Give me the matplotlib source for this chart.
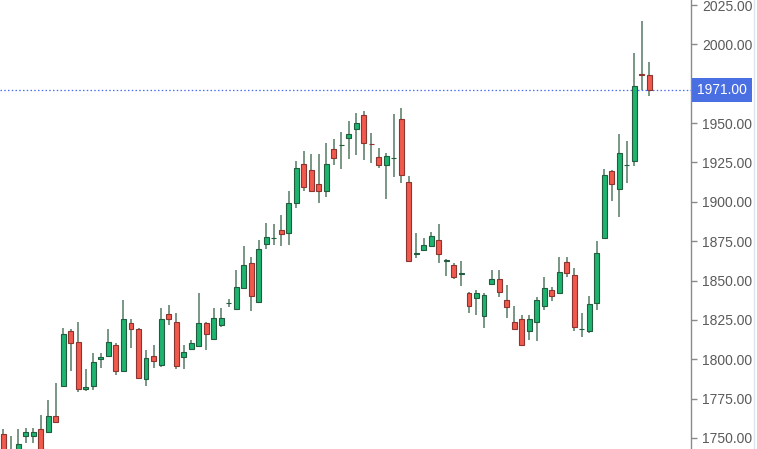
import numpy as np
import matplotlib
matplotlib.use("Agg")
import matplotlib.pyplot as plt
import matplotlib.transforms as mtransforms

plt.rcParams['font.family'] = ['Liberation Sans', 'DejaVu Sans']

# daily OHLC
opens = [1752.5, 1738, 1740, 1751.3, 1751.3, 1755.7, 1753.7, 1764.0, 1783.0, 1818.0,
         1811.0, 1781.1, 1783.0, 1800.2, 1802.1, 1809.1, 1792.6, 1823.0, 1819.2, 1787.5,
         1802.1, 1796.4, 1828.8, 1823.7, 1801.4, 1806.5, 1808.4, 1823.0, 1812.9, 1821.8,
         1835.5, 1831.9, 1845.3, 1861.1, 1836.4, 1873.2, 1876.8, 1882.1, 1880.2, 1899.3,
         1924.0, 1920.2, 1911.3, 1906.9, 1933.5, 1935.9, 1940.5, 1946.2, 1955.1, 1937.0,
         1928.5, 1923.4, 1927.6, 1952.6, 1912.6, 1866.7, 1869.4, 1871.9, 1875.8, 1862.3,
         1859.9, 1854.0, 1842.1, 1838.9, 1827.5, 1847.8, 1851.0, 1837.6, 1823.7, 1825.6,
         1818.0, 1823.7, 1833.8, 1844.0, 1842.1, 1861.8, 1853.5, 1819.0, 1818.0, 1835.7,
         1877.0, 1919.6, 1908.1, 1923.2, 1925.9, 1981.5, 1980.5]
highs = [1755.7, 1751.3, 1755.7, 1756.3, 1756.5, 1764.6, 1774.1, 1784.9, 1819.9, 1819.2,
         1823.7, 1793.8, 1804.0, 1804.0, 1819.2, 1810.3, 1837.6, 1825.6, 1819.9, 1806.0,
         1809.1, 1832.6, 1834.5, 1829.4, 1809.1, 1812.2, 1842.1, 1823.5, 1832.6, 1832.6,
         1838.3, 1856.7, 1871.9, 1865.0, 1875.8, 1886.5, 1885.9, 1891.6, 1906.9, 1925.9,
         1932.3, 1930.4, 1930.4, 1937.4, 1939.9, 1944.3, 1951.3, 1956.4, 1957.7, 1943.7,
         1934.2, 1931.0, 1955.8, 1959.6, 1916.4, 1880.2, 1877.0, 1880.8, 1885.9, 1863.7,
         1861.1, 1862.4, 1842.5, 1844.0, 1842.1, 1856.7, 1856.7, 1847.2, 1833.8, 1828.1,
         1828.1, 1839.6, 1852.3, 1845.9, 1865.0, 1865.0, 1858.0, 1829.4, 1840.2, 1875.1,
         1920.8, 1920.0, 1943.1, 1938.6, 1994.5, 2014.8, 1988.8]
lows = [1738, 1735, 1737, 1746.8, 1747, 1738, 1753.2, 1759.6, 1782.5, 1792.6,
        1779.2, 1779.8, 1780.5, 1794.5, 1801.4, 1790.0, 1792.0, 1807.2, 1787.5, 1783.0,
        1794.5, 1795.1, 1821.8, 1793.8, 1793.8, 1805.9, 1808.0, 1805.9, 1812.5, 1820.5,
        1833.1, 1831.5, 1845.0, 1830.7, 1836.0, 1870.0, 1872.6, 1871.9, 1872.6, 1896.1,
        1906.9, 1906.2, 1899.3, 1903.1, 1923.4, 1920.8, 1927.2, 1929.7, 1926.6, 1924.7,
        1921.5, 1901.8, 1915.8, 1912.0, 1862.0, 1864.3, 1868.8, 1871.3, 1861.1, 1852.9,
        1851.0, 1846.5, 1829.4, 1828.1, 1819.9, 1847.5, 1839.6, 1826.2, 1819.0, 1809.0,
        1812.2, 1811.6, 1831.3, 1837.0, 1842.0, 1852.3, 1818.0, 1814.1, 1816.7, 1831.3,
        1876.5, 1900.5, 1890.4, 1912.0, 1922.7, 1971.0, 1967.2]
closes = [1741, 1742, 1746.2, 1753.7, 1753.7, 1742, 1764.0, 1760.2, 1816.1, 1810.3,
          1781.1, 1782.4, 1798.3, 1801.4, 1811.0, 1792.6, 1825.6, 1819.2, 1788.1, 1800.8,
          1798.9, 1825.6, 1825.6, 1795.7, 1804.6, 1810.3, 1823.0, 1816.1, 1826.2, 1826.2,
          1836.0, 1845.9, 1859.9, 1840.2, 1870.0, 1877.7, 1877.2, 1879.6, 1899.3, 1921.5,
          1909.4, 1906.9, 1906.9, 1924.0, 1927.8, 1936.3, 1943.1, 1950.1, 1937.4, 1936.5,
          1923.4, 1929.1, 1928.0, 1917.0, 1862.4, 1867.1, 1872.6, 1878.3, 1866.9, 1862.6,
          1852.3, 1854.4, 1833.8, 1842.1, 1840.8, 1851.0, 1842.7, 1833.2, 1819.2, 1809.1,
          1825.6, 1837.6, 1845.3, 1840.2, 1855.4, 1854.8, 1820.5, 1819.4, 1835.1, 1867.5,
          1917.0, 1911.3, 1931.0, 1923.6, 1973.6, 1980.8, 1971.0]

y_ticks = [1750, 1775, 1800, 1825, 1850, 1875, 1900, 1925, 1950, 1975, 2000, 2025]
last_price = 1971.00

UP_FILL, UP_EDGE = '#1eb36e', '#215c3e'
DN_FILL, DN_EDGE = '#f2594d', '#8c3530'
WICK = '#557a63'

o = np.array(opens)
h = np.array(highs)
l = np.array(lows)
c = np.array(closes)
x = np.arange(len(o))
up = c >= o

fig = plt.figure(figsize=(7.57, 4.49), dpi=100)
ax = fig.add_axes([0, 0, 691 / 757, 1])

ax.vlines(x, l, h, color=WICK, lw=1.1, zorder=2)
bottom = np.minimum(o, c)
height = np.maximum(np.abs(c - o), 0.5)
ax.bar(x[up], height[up], bottom=bottom[up], width=0.66,
       color=UP_FILL, edgecolor=UP_EDGE, linewidth=0.8, zorder=3)
ax.bar(x[~up], height[~up], bottom=bottom[~up], width=0.66,
       color=DN_FILL, edgecolor=DN_EDGE, linewidth=0.8, zorder=3)

ax.axhline(last_price, color='#4a6cf0', lw=0.9, ls=(0, (1.2, 1.8)), zorder=1)

ax.set_xlim(-0.44, 91.56)
ax.set_ylim(1743.0, 2028.2)

for s in ['top', 'bottom', 'left']:
    ax.spines[s].set_visible(False)
ax.spines['right'].set_color('#8a8a8a')
ax.spines['right'].set_linewidth(1.0)
ax.set_xticks([])
ax.yaxis.tick_right()
ax.set_yticks(y_ticks)
ax.set_yticklabels([f'{v:.2f}' for v in y_ticks])
ax.tick_params(axis='y', direction='out', length=4, width=1, color='#8a8a8a',
               labelcolor='#5a5a5a', labelsize=10, pad=4)

trans = mtransforms.blended_transform_factory(ax.transAxes, ax.transData)
ax.annotate(f'{last_price:.2f}', xy=(1.0, last_price), xycoords=trans,
            xytext=(4.2, 0), textcoords='offset points', ha='left', va='center',
            color='white', fontsize=10, annotation_clip=False, zorder=5,
            bbox=dict(boxstyle='square,pad=0.38', fc='#4a6fe3', ec='none'))

fig.add_artist(plt.Line2D([754 / 757, 754 / 757], [0, 1], color='#dde3ee', lw=1))

fig.savefig('out.png', dpi=100, facecolor='white')
